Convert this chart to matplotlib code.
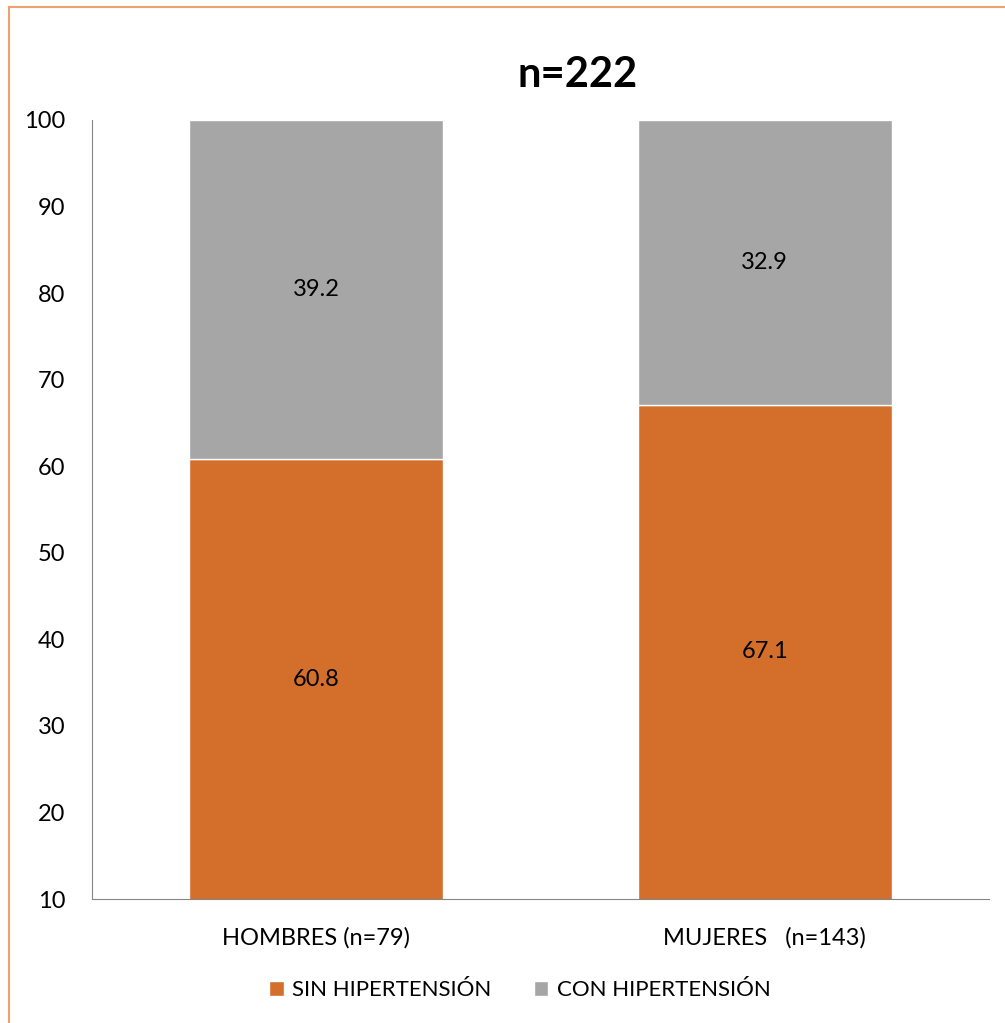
import matplotlib.pyplot as plt
from matplotlib.patches import Rectangle

categories = ['HOMBRES (n=79)', 'MUJERES   (n=143)']
sin_hta = [60.8, 67.1]
con_hta = [39.2, 32.9]
series_names = ['SIN HIPERTENSIÓN', 'CON HIPERTENSIÓN']
title = 'n=222'

orange = '#D36E2B'
gray = '#A6A6A6'
plt.rcParams['font.family'] = ['Lato', 'DejaVu Sans']

fig = plt.figure(figsize=(10.05, 10.23), dpi=100)
ax = fig.add_axes([92/1005, 1 - 899/1023, 897/1005, 779/1023])

x = range(len(categories))
ymin = 10
b1 = ax.bar(x, sin_hta, width=0.566, color=orange, edgecolor='white', linewidth=1,
            label=series_names[0])
b2 = ax.bar(x, con_hta, bottom=sin_hta, width=0.566, color=gray, edgecolor='white',
            linewidth=1, label=series_names[1])

# labels at middle of the visible part of each segment
for i in x:
    lo = max(0, ymin)
    ax.text(i, (lo + sin_hta[i]) / 2, f'{sin_hta[i]:.1f}', ha='center', va='center', fontsize=17)
    ax.text(i, sin_hta[i] + con_hta[i] / 2, f'{con_hta[i]:.1f}', ha='center', va='center', fontsize=17)

ax.set_xlim(-0.5, 1.5)
ax.set_ylim(ymin, 100)
ax.set_yticks(range(10, 101, 10))
ax.set_xticks(list(x))
ax.set_xticklabels(categories)
ax.tick_params(axis='both', length=0, labelsize=17)
ax.tick_params(axis='y', pad=19)
ax.tick_params(axis='x', pad=20)
for s in ['top', 'right']:
    ax.spines[s].set_visible(False)
for s in ['left', 'bottom']:
    ax.spines[s].set_color('#868686')

fig.text(578/1005, 1 - 75/1023, title, ha='center', va='center', fontsize=30, fontweight='bold')

fig.legend(handles=[b1, b2], labels=series_names, loc='center', bbox_to_anchor=(520/1005, 1 - 990/1023),
           ncol=2, frameon=False, fontsize=16, handlelength=0.65, handleheight=0.65,
           handletextpad=0.4, columnspacing=1.9)

fig.patches.append(Rectangle((9/1005, -0.1), 1.2, 1 - 7/1023 + 0.1, transform=fig.transFigure,
                             fill=False, edgecolor='#F0A070', linewidth=1.5))

fig.savefig('out.png', dpi=100)
